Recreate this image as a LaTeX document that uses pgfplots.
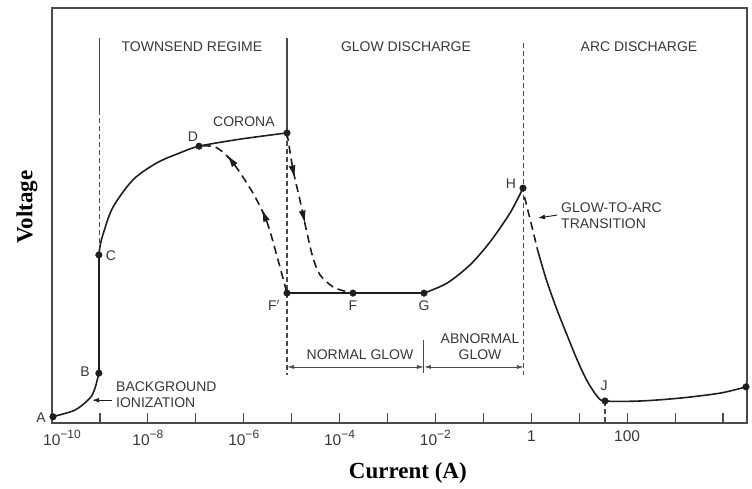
\documentclass[border=0pt]{standalone}
\usepackage{fontspec}
\setmainfont{Liberation Sans}
\newfontfamily\titlefont{Liberation Serif}
\usepackage{pgfplots}
\pgfplotsset{compat=1.18}
\usetikzlibrary{decorations.markings,arrows.meta}
\definecolor{ink}{HTML}{1E1E1E}
\definecolor{txt}{HTML}{383838}
\definecolor{frame}{HTML}{4A4A4A}
\newcommand{\lbl}{\fontsize{14}{16}\selectfont}
\newcommand{\expo}[1]{\raisebox{0.45em}{\fontsize{12}{12}\selectfont #1}}
\begin{document}
\begin{tikzpicture}[x=1pt,y=1pt]
\useasboundingbox (0,0) rectangle (752,488);
\begin{axis}[
  at={(52pt,65pt)}, anchor=south west,
  scale only axis, width=695pt, height=415pt,
  xmode=log, xmin=1e-10, xmax=31622.8,
  ymin=0, ymax=100,
  ytick=\empty,
  xtick={1e-10,1e-9,1e-8,1e-7,1e-6,1e-5,1e-4,1e-3,1e-2,1e-1,1,10,100,1000,10000},
  xticklabels={\hspace*{20pt}10\expo{−10},,10\expo{−8},,10\expo{−6},,10\expo{−4},,10\expo{−2},,1,,100,,},
  xminorticks=false,
  xtick pos=bottom, tick align=inside, major tick length=10pt,
  tick style={line width=1.2pt, color=frame},
  axis line style={line width=1.3pt, color=frame},
  xticklabel style={font=\fontsize{15.5}{17}\selectfont, text=txt, yshift=-4pt},
  xlabel={Current (A)}, ylabel={Voltage},
  xlabel style={font=\titlefont\bfseries\fontsize{23}{26}\selectfont, at={(axis description cs:0.512,-0.12)}, anchor=center},
  ylabel style={font=\titlefont\bfseries\fontsize{23}{26}\selectfont, at={(axis description cs:-0.036,0.52)}, anchor=center},
  clip=false,
]
% regime boundaries
\addplot[frame, line width=1.1pt] coordinates {(1e-9,92.8) (1e-9,75.4)};
\addplot[frame, line width=1.1pt, dash pattern=on 5pt off 3pt] coordinates {(1e-9,75.4) (1e-9,40.5)};
\addplot[frame, line width=1.1pt] coordinates {(8e-6,92.8) (8e-6,69.9)};
\addplot[frame, line width=1.1pt, dash pattern=on 5pt off 3pt] coordinates {(8e-6,69.9) (8e-6,11.6)};
\addplot[frame, line width=1.1pt, dash pattern=on 5pt off 3pt] coordinates {(0.7,91.6) (0.7,11.6)};
\addplot[frame, line width=1.1pt, dash pattern=on 5pt off 3pt] coordinates {(34.5,5.3) (34.5,0)};
\addplot[frame, line width=1.0pt] coordinates {(5.77e-3,20) (5.77e-3,12)};
% main curve
\addplot[ink, line width=1.6pt, smooth] coordinates {(1.0e-10,1.5) (3.0e-10,3.1) (6.2e-10,6.0) (7.9e-10,8.4) (9.5e-10,12.0)};
\addplot[ink, line width=1.6pt] coordinates {(9.5e-10,12.0) (9.5e-10,40.5)};
\addplot[ink, line width=1.6pt, smooth] coordinates {(9.5e-10,40.5) (1.02e-9,43.0) (1.2e-9,46.0) (1.87e-9,52.0) (4.9e-9,58.6) (1.55e-8,62.7) (4.7e-8,65.1) (1.17e-7,66.7) (8.4e-7,68.4) (8.0e-6,69.9)};
\addplot[ink, line width=1.6pt, dash pattern=on 8pt off 5pt, smooth,
  postaction={decorate}, decoration={markings,
    mark=at position 0.22 with {\arrow[solid]{Latex[length=13pt,width=7pt,reversed]}},
    mark=at position 0.58 with {\arrow[solid]{Latex[length=13pt,width=7pt,reversed]}}}]
  coordinates {(1.4e-7,66.8) (2.77e-7,66.3) (5.97e-7,62.7) (1.56e-6,55.4) (3.06e-6,48.4) (5.19e-6,39.3) (6.9e-6,34.0) (8.0e-6,31.3)};
\addplot[ink, line width=1.6pt, dash pattern=on 8pt off 5pt, smooth,
  postaction={decorate}, decoration={markings,
    mark=at position 0.25 with {\arrow[solid]{Latex[length=13pt,width=7pt]}},
    mark=at position 0.5 with {\arrow[solid]{Latex[length=13pt,width=7pt]}}}]
  coordinates {(8.0e-6,69.9) (1.07e-5,61.0) (1.49e-5,53.7) (2.09e-5,45.8) (2.79e-5,39.8) (3.9e-5,35.7) (7.3e-5,32.8) (1.43e-4,31.6) (1.9e-4,31.3)};
\addplot[ink, line width=1.6pt] coordinates {(8.0e-6,31.3) (5.77e-3,31.3)};
\addplot[ink, line width=1.6pt, smooth] coordinates {(5.77e-3,31.3) (0.0174,33.7) (0.0526,38.1) (0.137,43.6) (0.36,50.6) (0.671,56.6)};
\addplot[ink, line width=1.6pt, dash pattern=on 8pt off 5pt] coordinates {(0.72,54.5) (0.853,51.1) (1.085,46.3) (1.316,42.2)};
\addplot[ink, line width=1.6pt, smooth] coordinates {(1.316,42.2) (2.0,35.0) (3.3,27.8) (5.56,21.2) (8.98,15.3) (14.5,10.2) (23.5,6.5) (34.5,5.3) (185,5.3) (1265,6.0) (8650,7.2) (30130,8.7)};
% points
\addplot[only marks, mark=*, mark size=3.3pt, ink] coordinates {(1.05e-10,1.5) (9.5e-10,12.0) (9.5e-10,40.5) (1.17e-7,66.7) (8.0e-6,69.9) (8.0e-6,31.3) (1.9e-4,31.3) (5.77e-3,31.3) (0.671,56.6) (34.5,5.3) (30130,8.7)};
% labels
\begin{scope}[every node/.style={font=\lbl, text=txt, inner sep=1pt}]
\node at (axis cs:8.3e-8,90.6) {TOWNSEND REGIME};
\node at (axis cs:2.43e-3,90.6) {GLOW DISCHARGE};
\node at (axis cs:176.6,90.6) {ARC DISCHARGE};
\node at (axis cs:1.01e-6,72.5) {CORONA};
\node at (axis cs:8.7e-8,68.9) {D};
\node at (axis cs:1.70e-9,40.2) {C};
\node at (axis cs:4.9e-10,12.3) {B};
\node at (axis cs:5.9e-11,1.4) {A};
\node at (axis cs:4.28e-6,28.4) {F$'$};
\node at (axis cs:1.9e-4,28.2) {F};
\node at (axis cs:5.8e-3,28.2) {G};
\node at (axis cs:0.377,57.6) {H};
\node at (axis cs:32.9,8.9) {J};
\node[anchor=west, align=left] at (axis cs:2.06e-9,6.9) {BACKGROUND\\IONIZATION};
\node at (axis cs:2.67e-4,16.4) {NORMAL GLOW};
\node[align=center] at (axis cs:0.0851,18.4) {ABNORMAL\\GLOW};
\node[anchor=west, align=left] at (axis cs:3.97,49.9) {GLOW-TO-ARC\\TRANSITION};
\end{scope}
\draw[ink, line width=0.9pt, -{Latex[length=7pt,width=5pt]}] (axis cs:1.79e-9,5.5) -- (axis cs:6.9e-10,5.5);
\draw[ink, line width=0.9pt, -{Latex[length=7pt,width=5pt]}] (axis cs:3.44,50.1) -- (axis cs:1.38,49.4);
\draw[frame, line width=0.8pt, {Latex[length=7pt,width=4pt]}-{Latex[length=7pt,width=4pt]}] (axis cs:8e-6,13.5) -- (axis cs:5.77e-3,13.5);
\draw[frame, line width=0.8pt, {Latex[length=7pt,width=4pt]}-{Latex[length=7pt,width=4pt]}] (axis cs:5.77e-3,13.5) -- (axis cs:0.7,13.5);
\end{axis}
\end{tikzpicture}
\end{document}
